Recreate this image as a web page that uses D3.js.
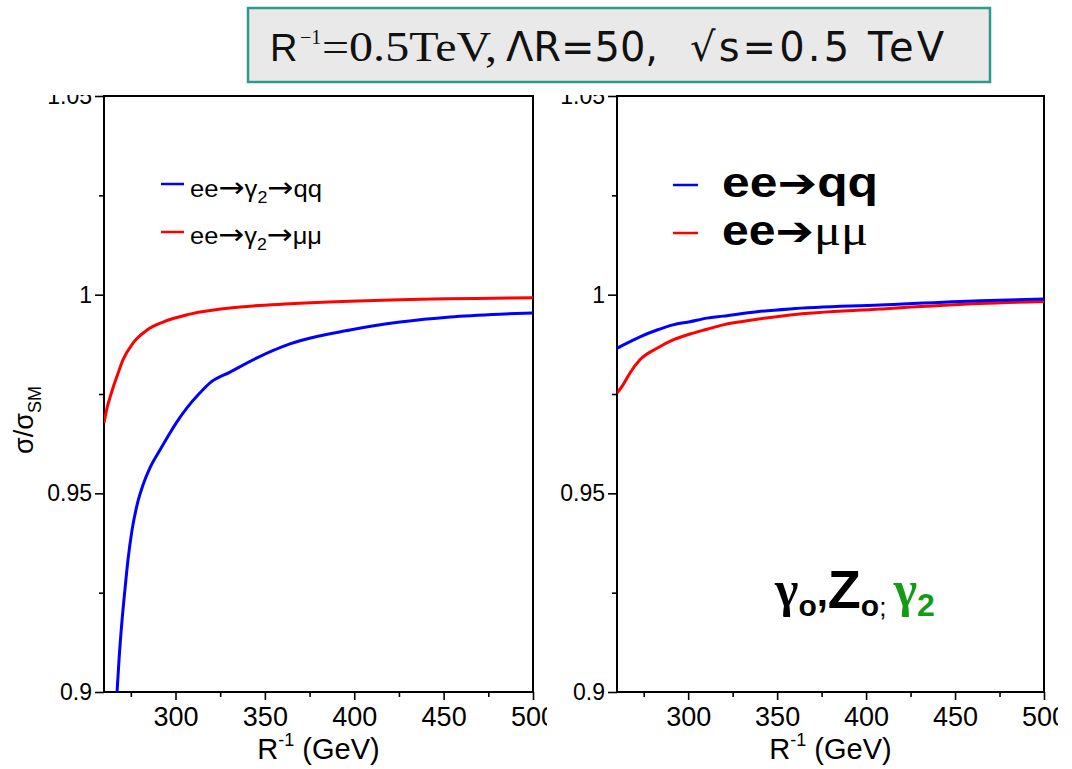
<!DOCTYPE html>
<html>
<head>
<meta charset="utf-8">
<script src="https://cdn.jsdelivr.net/npm/d3@7"></script>
<style>
  html, body { margin: 0; padding: 0; background: #fff; }
  svg { display: block; }
</style>
</head>
<body>
<script>
// Ratio sigma/sigma_SM versus inverse compactification radius R^-1 (GeV)
const xDomain = [260, 500];
const yDomain = [0.9, 1.05];
const xMajorTicks = [300, 350, 400, 450, 500];
const xMinorTicks = [275, 325, 375, 425, 475];
const yMajorTicks = [0.9, 0.95, 1, 1.05];
const yMinorTicks = [0.925, 0.975, 1.025];
const yTickLabels = ["0.9", "0.95", "1", "1.05"];

// Left panel: gamma_2 exchange only
const leftQqR = [267.3, 268.4, 270.1, 271.7, 273.4, 275.7, 278.5, 281.8, 285.7, 291.3, 296.9, 300.8, 306.4, 313.7, 319.3, 330.5, 345.6, 364.0, 397.6, 425.6, 453.6, 481.5, 500];
const leftQqV = [0.9, 0.9081, 0.9181, 0.9257, 0.9332, 0.9408, 0.9471, 0.9521, 0.9564, 0.9609, 0.9652, 0.9680, 0.9715, 0.9753, 0.9778, 0.9805, 0.9841, 0.9876, 0.9911, 0.9931, 0.9944, 0.9951, 0.9954];
const leftMuR = [260, 261.7, 263.4, 265.0, 267.3, 270.6, 276.2, 284.1, 293.0, 308.1, 336.1, 364.0, 425.6, 500];
const leftMuV = [0.9677, 0.9715, 0.9742, 0.9765, 0.9795, 0.9836, 0.9878, 0.9911, 0.9931, 0.9951, 0.9969, 0.9977, 0.9987, 0.9992];

// Right panel: gamma_0, Z_0 and gamma_2 exchange
const rightQqR = [260, 263.4, 272.9, 282.5, 291.5, 301.0, 310.6, 319.6, 338.7, 357.2, 407.8, 464.0, 500];
const rightQqV = [0.9865, 0.9873, 0.9894, 0.9911, 0.9924, 0.9932, 0.9941, 0.9946, 0.9957, 0.9964, 0.9974, 0.9985, 0.9989];
const rightMuR = [260, 263.4, 267.3, 272.9, 282.5, 291.5, 301.0, 310.6, 319.6, 338.7, 357.2, 407.8, 464.0, 500];
const rightMuV = [0.9752, 0.9773, 0.9803, 0.9836, 0.9865, 0.9886, 0.9901, 0.9913, 0.9924, 0.9938, 0.9949, 0.9964, 0.9978, 0.9983];

const BLUE = "#0000ff", RED = "#ff0000", GREEN = "#139b13";
const SANS = "'Liberation Sans', Arial, sans-serif";
const WIDE = "'DejaVu Sans', Verdana, sans-serif";
const SERIF = "'Liberation Serif', 'Times New Roman', serif";

const W = 1072, H = 769;
const svg = d3.select("body").append("svg").attr("width", W).attr("height", H)
  .attr("font-family", SANS);
const defs = svg.append("defs");

const panels = [
  { id: "L", x0: 104, x1: 533, clipX0: 0, clipX1: 547, qqR: leftQqR, qqV: leftQqV, muR: leftMuR, muV: leftMuV },
  { id: "R", x0: 617, x1: 1044, clipX0: 547, clipX1: 1058, qqR: rightQqR, qqV: rightQqV, muR: rightMuR, muV: rightMuV }
];
const yTop = 96, yBot = 692;

panels.forEach(p => {
  defs.append("clipPath").attr("id", "clip" + p.id)
    .append("rect").attr("x", p.clipX0).attr("y", 95)
    .attr("width", p.clipX1 - p.clipX0).attr("height", H - 95);
  defs.append("clipPath").attr("id", "plot" + p.id)
    .append("rect").attr("x", p.x0).attr("y", yTop)
    .attr("width", p.x1 - p.x0).attr("height", yBot - yTop);

  const g = svg.append("g").attr("clip-path", `url(#clip${p.id})`);
  const x = d3.scaleLinear().domain(xDomain).range([p.x0, p.x1]);
  const y = d3.scaleLinear().domain(yDomain).range([yBot, yTop]);
  p.g = g;

  // y axis: major + minor ticks
  g.append("g").attr("transform", `translate(${p.x0},0)`)
    .call(d3.axisLeft(y).tickValues(yMajorTicks).tickSize(9).tickPadding(3)
      .tickFormat((d, i) => yTickLabels[i]))
    .attr("class", "yaxis");
  g.append("g").attr("transform", `translate(${p.x0},0)`)
    .call(d3.axisLeft(y).tickValues(yMinorTicks).tickSize(5).tickFormat(""));

  // x axis: major + minor ticks
  g.append("g").attr("transform", `translate(0,${yBot})`)
    .call(d3.axisBottom(x).tickValues(xMajorTicks).tickSize(8).tickPadding(7).tickFormat(d3.format("d")))
    .attr("class", "xaxis");
  g.append("g").attr("transform", `translate(0,${yBot})`)
    .call(d3.axisBottom(x).tickValues(xMinorTicks).tickSize(5).tickFormat(""));

  g.selectAll(".domain").remove();
  g.selectAll(".tick line").attr("stroke", "#000").attr("stroke-width", 1.6);
  g.selectAll(".tick text").attr("fill", "#000").attr("font-family", SANS);
  g.selectAll(".yaxis .tick text").attr("font-size", 23);
  g.selectAll(".xaxis .tick text").attr("font-size", 27);

  // frame
  g.append("rect").attr("x", p.x0).attr("y", yTop)
    .attr("width", p.x1 - p.x0).attr("height", yBot - yTop)
    .attr("fill", "none").attr("stroke", "#000").attr("stroke-width", 2);

  // curves
  const line = d3.line().x(d => x(d[0])).y(d => y(d[1])).curve(d3.curveMonotoneX);
  const curves = g.append("g").attr("clip-path", `url(#plot${p.id})`);
  curves.append("path").datum(d3.zip(p.muR, p.muV)).attr("d", line)
    .attr("fill", "none").attr("stroke", RED).attr("stroke-width", 3);
  curves.append("path").datum(d3.zip(p.qqR, p.qqV)).attr("d", line)
    .attr("fill", "none").attr("stroke", BLUE).attr("stroke-width", 3);

  // x axis title
  const xt = g.append("text").attr("x", (p.x0 + p.x1) / 2).attr("y", 759)
    .attr("text-anchor", "middle").attr("font-size", 29).attr("fill", "#000");
  xt.append("tspan").text("R");
  xt.append("tspan").attr("font-size", 18).attr("dy", -13).text("-1");
  xt.append("tspan").attr("dy", 13).text(" (GeV)");
});

// y axis title (left panel only)
const yt = svg.append("text").attr("transform", "translate(33,420) rotate(-90)")
  .attr("text-anchor", "middle").attr("font-size", 27).attr("fill", "#000");
yt.append("tspan").text("σ/σ");
yt.append("tspan").attr("font-size", 18).attr("dy", 8).text("SM");

// Left legend
const Lg = panels[0].g;
[[BLUE, 184, 197, "qq"], [RED, 232, 244, "μμ"]].forEach(([c, ly, ty, fin]) => {
  Lg.append("line").attr("x1", 161).attr("x2", 184).attr("y1", ly).attr("y2", ly)
    .attr("stroke", c).attr("stroke-width", 2.5);
  const t = Lg.append("text").attr("x", 190).attr("y", ty).attr("font-size", 23).attr("fill", "#000");
  t.append("tspan").text("ee");
  t.append("tspan").attr("font-family", WIDE).attr("font-size", 28).text("→");
  t.append("tspan").text("γ");
  t.append("tspan").attr("font-size", 16).attr("dy", 6).text("2");
  t.append("tspan").attr("dy", -6).attr("font-family", WIDE).attr("font-size", 28).text("→");
  t.append("tspan").text(fin);
  t.attr("textLength", 132).attr("lengthAdjust", "spacingAndGlyphs");
});

// Right legend
const Rg = panels[1].g;
[[BLUE, 185, 197, "qq"], [RED, 233, 245, "μμ"]].forEach(([c, ly, ty, fin], i) => {
  Rg.append("line").attr("x1", 673).attr("x2", 698).attr("y1", ly).attr("y2", ly)
    .attr("stroke", c).attr("stroke-width", 2.5);
  const t = Rg.append("text").attr("x", 722).attr("y", ty).attr("font-size", 42)
    .attr("font-weight", "bold").attr("fill", "#000");
  t.append("tspan").text("ee");
  t.append("tspan").attr("font-family", WIDE).attr("font-size", 40).text("➔");
  if (i === 0) t.append("tspan").text(fin);
  else t.append("tspan").attr("font-family", SERIF).attr("font-weight", "normal").attr("font-size", 44).text(fin);
  t.attr("textLength", i === 0 ? 156 : 146).attr("lengthAdjust", "spacingAndGlyphs");
});

// Exchanged states annotation
const an = Rg.append("text").attr("x", 775).attr("y", 606).attr("fill", "#000").attr("font-weight", "bold");
an.append("tspan").attr("font-size", 50).attr("font-family", SERIF).text("γ");
an.append("tspan").attr("font-size", 30).attr("dy", 10).text("o");
an.append("tspan").attr("font-size", 40).attr("dy", -10).text(",");
an.append("tspan").attr("font-size", 54).attr("dy", 2).text("Z");
an.append("tspan").attr("font-size", 30).attr("dy", 8).text("o");
an.append("tspan").attr("font-size", 26).attr("font-weight", "normal").text("; ");
an.append("tspan").attr("font-size", 50).attr("dy", -10).attr("fill", GREEN)
  .attr("font-family", SERIF).text("γ");
an.append("tspan").attr("font-size", 32).attr("dy", 10).attr("fill", GREEN).text("2");

// Title box
svg.append("rect").attr("x", 248).attr("y", 8).attr("width", 742).attr("height", 74)
  .attr("fill", "#e9e9e9").attr("stroke", "#2f9a8c").attr("stroke-width", 2.5);
const tt = svg.append("text").attr("y", 61).attr("fill", "#111");
tt.append("tspan").attr("x", 270).attr("font-family", SANS).attr("font-size", 38).text("R");
tt.append("tspan").attr("x", 300).attr("dy", -17).attr("font-family", SERIF).attr("font-size", 20).text("−1");
tt.append("tspan").attr("x", 322).attr("dy", 17).attr("font-family", SERIF).attr("font-size", 42)
  .attr("textLength", 175).attr("lengthAdjust", "spacingAndGlyphs").text("=0.5TeV,");
tt.append("tspan").attr("x", 506).attr("font-family", WIDE).attr("font-size", 40)
  .attr("textLength", 152).attr("lengthAdjust", "spacing").text("ΛR=50,");
tt.append("tspan").attr("x", 690).attr("font-family", WIDE).attr("font-size", 40)
  .attr("textLength", 254).attr("lengthAdjust", "spacing").text("√s=0.5 TeV");
</script>
</body>
</html>
